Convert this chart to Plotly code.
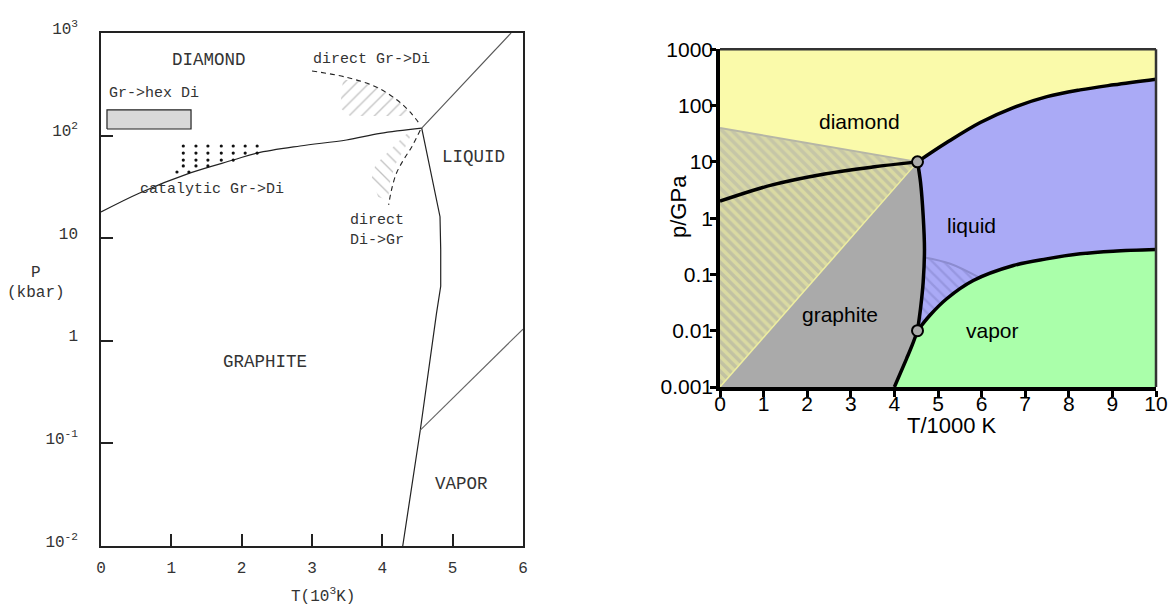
import numpy as np
import plotly.graph_objects as go

# ======================= left panel: T in 10^3 K, P in kbar =======================
L_gd_T = [0, 0.55, 1.27, 1.88, 2.22, 2.83, 3.49, 3.97, 4.56]
L_gd_P = [18.0, 27.6, 43.3, 57.8, 67.6, 79.2, 90.6, 105, 118]
L_dl_T = [4.56, 5.83]
L_dl_P = [118, 1000]
L_gl_T = [4.56, 4.73, 4.82, 4.83, 4.83, 4.77, 4.54, 4.29]
L_gl_P = [118, 31.8, 16.2, 7.7, 3.4, 1.85, 0.135, 0.01]
L_lv_T = [4.54, 6.0]
L_lv_P = [0.135, 1.30]
L_direct_gd_T = [3.0, 3.49, 3.92, 4.21, 4.39, 4.54]
L_direct_gd_P = [426, 370, 296, 222, 171, 127]
L_direct_dg_T = [4.54, 4.42, 4.30, 4.20, 4.13, 4.09]
L_direct_dg_P = [113.5, 78, 57.8, 42.9, 29.5, 21.1]
L_hatch_gd_T = [3.44, 3.71, 3.97, 4.22, 4.39, 4.32, 3.54, 3.40]
L_hatch_gd_P = [348, 348, 291, 222, 166, 155, 155, 186]
L_hatch_dg_T = [4.44, 4.32, 4.18, 4.11, 4.08, 3.94, 3.85, 3.90, 4.11, 4.32]
L_hatch_dg_P = [113.5, 75.7, 51.7, 35.3, 23.6, 25.2, 38.6, 51.7, 72.4, 101]
L_hexdi_T = [0.085, 1.28, 1.28, 0.085, 0.085]
L_hexdi_P = [116, 116, 178, 178, 116]
L_cat_T = ([1.17, 1.35, 1.52, 1.71, 1.88, 2.05, 2.22] * 2
           + [1.17, 1.35, 1.52, 1.71, 1.88] + [1.17, 1.35, 1.52] + [1.08, 1.25])
L_cat_P = ([79.2] * 7 + [67.6] * 7 + [57.8] * 5 + [50.6] * 3 + [44.2] * 2)
L_xticks = [0, 1, 2, 3, 4, 5, 6]
L_yticks = [0.01, 0.1, 1, 10, 100, 1000]
L_yticktext = ["10<sup>-2</sup>", "10<sup>-1</sup>", "1", "10", "10<sup>2</sup>", "10<sup>3</sup>"]

# ======================= right panel: T in 1000 K, p in GPa =======================
R_gd_T = [0, 1.2, 2.4, 3.5, 4.53]
R_gd_p = [2.0, 3.9, 6.1, 8.1, 10]
R_dl_T = [4.53, 5.2, 5.97, 6.73, 7.5, 8.26, 9.03, 10]
R_dl_p = [10, 22, 50, 92, 144, 190, 234, 295]
R_gl_T = [4.53, 4.6, 4.66, 4.69, 4.66, 4.6, 4.53]
R_gl_p = [10, 4.3, 1.1, 0.28, 0.073, 0.025, 0.01]
R_gv_T = [4.53, 4.41, 4.28, 4.0]
R_gv_p = [0.01, 0.0056, 0.0032, 0.001]
R_lv_T = [4.53, 4.82, 5.2, 5.81, 6.73, 7.49, 8.26, 9.02, 10]
R_lv_p = [0.01, 0.019, 0.037, 0.078, 0.144, 0.189, 0.232, 0.259, 0.277]
R_meta_top_p = 40          # upper corner of metastable-diamond wedge at T = 0
R_meta_liq_T = [4.69, 5.28, 5.96]
R_meta_liq_p = [0.2, 0.155, 0.087]
R_triple_T = [4.53, 4.53]
R_triple_p = [10, 0.01]
R_xticks = list(range(0, 11))
R_yticks = [0.001, 0.01, 0.1, 1, 10, 100, 1000]
R_yticktext = ["0.001", "0.01", "0.1", "1", "10", "100", "1000"]

W, H = 1171, 608
L_dom_x = [101 / W, 523 / W]
L_dom_y = [1 - 546 / H, 1 - 33 / H]
R_dom_x = [720 / W, 1156 / W]
R_dom_y = [1 - 387 / H, 1 - 49.3 / H]

MONO = "Liberation Mono"
SANS = "Liberation Sans"
INK = "#333333"

fig = go.Figure()


def poly(xs, ys, xa, ya, **kw):
    fig.add_trace(go.Scatter(x=list(xs), y=list(ys), xaxis=xa, yaxis=ya, mode="lines",
                             fill="toself", hoverinfo="skip", **kw))


def curve(xs, ys, xa, ya, color, width, dash="solid", shape="linear"):
    fig.add_trace(go.Scatter(x=list(xs), y=list(ys), xaxis=xa, yaxis=ya, mode="lines",
                             line=dict(color=color, width=width, dash=dash, shape=shape),
                             hoverinfo="skip"))


# ---------------- left panel ----------------
poly(L_hexdi_T, L_hexdi_P, "x", "y", fillcolor="#d9d9d9", line=dict(color="#222", width=1.2))
poly(L_hatch_gd_T, L_hatch_gd_P, "x", "y", fillcolor="rgba(0,0,0,0)",
     line=dict(width=0), fillpattern=dict(shape="/", fgcolor="#888888",
                                          bgcolor="rgba(255,255,255,0)", size=9, solidity=0.15))
poly(L_hatch_dg_T, L_hatch_dg_P, "x", "y", fillcolor="rgba(0,0,0,0)",
     line=dict(width=0), fillpattern=dict(shape="\\", fgcolor="#888888",
                                          bgcolor="rgba(255,255,255,0)", size=9, solidity=0.15))
curve(L_gd_T, L_gd_P, "x", "y", "#222222", 1.2, shape="spline")
curve(L_dl_T, L_dl_P, "x", "y", "#555555", 1.1)
curve(L_gl_T, L_gl_P, "x", "y", "#222222", 1.2)
curve(L_lv_T, L_lv_P, "x", "y", "#666666", 1.1)
curve(L_direct_gd_T, L_direct_gd_P, "x", "y", "#222222", 1.1, dash="5px,4px", shape="spline")
curve(L_direct_dg_T, L_direct_dg_P, "x", "y", "#222222", 1.1, dash="5px,4px", shape="spline")
fig.add_trace(go.Scatter(x=L_cat_T, y=L_cat_P, xaxis="x", yaxis="y", mode="markers",
                         marker=dict(size=3.2, color="#111111"), hoverinfo="skip"))

# ---------------- right panel ----------------
g_T = [0, 0] + R_gd_T[1:] + R_gl_T[1:] + R_gv_T[1:]
g_p = [0.001, R_gd_p[0]] + R_gd_p[1:] + R_gl_p[1:] + R_gv_p[1:]
poly(g_T, g_p, "x2", "y2", fillcolor="#aaaaaa", line=dict(width=0))

l_T = R_gl_T + R_lv_T[1:] + R_dl_T[::-1]
l_p = R_gl_p + R_lv_p[1:] + R_dl_p[::-1]
poly(l_T, l_p, "x2", "y2", fillcolor="#aaaaf6", line=dict(width=0))

ml_lv = [(t, p) for t, p in zip(R_lv_T, R_lv_p) if t < R_meta_liq_T[-1]][::-1]
ml_gl = [(t, p) for t, p in zip(R_gl_T, R_gl_p) if p < R_meta_liq_p[0]][::-1][1:]
ml_T = R_meta_liq_T + [a for a, _ in ml_lv] + [a for a, _ in ml_gl]
ml_p = R_meta_liq_p + [b for _, b in ml_lv] + [b for _, b in ml_gl]
poly(ml_T, ml_p, "x2", "y2", fillcolor="#aaaaf6", line=dict(width=0),
     fillpattern=dict(shape="\\", fgcolor="#8484cc", bgcolor="#aaaaf6", size=8, solidity=0.3))

v_T = R_gv_T[::-1] + R_lv_T[1:] + [10]
v_p = R_gv_p[::-1] + R_lv_p[1:] + [0.001]
poly(v_T, v_p, "x2", "y2", fillcolor="#aaffaa", line=dict(width=0))

# metastable diamond wedge, split by the graphite/diamond boundary
up_T = [0, R_gd_T[-1]] + R_gd_T[::-1][1:]
up_p = [R_meta_top_p, R_gd_p[-1]] + R_gd_p[::-1][1:]
poly(up_T, up_p, "x2", "y2", fillcolor="#d6d6a6", line=dict(width=0),
     fillpattern=dict(shape="\\", fgcolor="#b4b4a8", bgcolor="#d8d8a6", size=7, solidity=0.5))
lo_T = R_gd_T + [0]
lo_p = R_gd_p + [0.001]
poly(lo_T, lo_p, "x2", "y2", fillcolor="#c4c4a2", line=dict(width=0),
     fillpattern=dict(shape="\\", fgcolor="#f2f2a2", bgcolor="#c2c2a2", size=7, solidity=0.5))
curve([0, R_gd_T[-1]], [R_meta_top_p, R_gd_p[-1]], "x2", "y2", "#b6b6a6", 2)
curve([0, R_gd_T[-1]], [0.001, R_gd_p[-1]], "x2", "y2", "#eeeea0", 1.5)
curve(R_meta_liq_T, R_meta_liq_p, "x2", "y2", "#8c8cd0", 2, shape="spline")

for xs, ys in [(R_gd_T, R_gd_p), (R_dl_T, R_dl_p), (R_gl_T, R_gl_p),
               (R_gv_T, R_gv_p), (R_lv_T, R_lv_p)]:
    curve(xs, ys, "x2", "y2", "#000000", 3.5, shape="spline")
fig.add_trace(go.Scatter(x=R_triple_T, y=R_triple_p, xaxis="x2", yaxis="y2", mode="markers",
                         marker=dict(size=11, color="#aaaaaa", line=dict(color="#000", width=2)),
                         hoverinfo="skip", cliponaxis=False))

# ---------------- axes ----------------
mono_tick = dict(family=MONO, size=16, color=INK)
sans_tick = dict(family=SANS, size=21, color="#000")
layout = dict(
    width=W, height=H, autosize=False,
    margin=dict(l=0, r=0, t=0, b=0, pad=0, autoexpand=False),
    paper_bgcolor="white", plot_bgcolor="rgba(0,0,0,0)", showlegend=False,
    xaxis=dict(domain=L_dom_x, range=[0, 6], anchor="y", tickvals=L_xticks,
               ticks="inside", ticklen=12, tickwidth=1.5, tickcolor="#222",
               showline=True, linecolor="#222", linewidth=1.5, mirror=True,
               showgrid=False, zeroline=False, tickfont=mono_tick, ticklabelstandoff=6,
               automargin=False),
    yaxis=dict(domain=L_dom_y, type="log", range=[-2, 3], anchor="x", tickvals=L_yticks,
               ticktext=L_yticktext, ticks="inside", ticklen=12, tickwidth=1.5,
               tickcolor="#222", showline=True, linecolor="#222", linewidth=1.5, mirror=True,
               showgrid=False, zeroline=False, tickfont=mono_tick, ticklabelstandoff=18,
               ticklabelshift=-5, automargin=False),
    xaxis2=dict(domain=R_dom_x, range=[0, 10], anchor="y2", tickvals=R_xticks,
                ticks="outside", ticklen=6, tickwidth=2.5, tickcolor="#000",
                showline=True, linecolor="#000", linewidth=3.5,
                showgrid=False, zeroline=False, tickfont=sans_tick, automargin=False,
                ticklabelstandoff=-11),
    yaxis2=dict(domain=R_dom_y, type="log", range=[-3, 3], anchor="x2", tickvals=R_yticks,
                ticktext=R_yticktext, ticks="outside", ticklen=6, tickwidth=2.5,
                tickcolor="#000", showline=True, linecolor="#000", linewidth=3.5,
                showgrid=False, zeroline=False, tickfont=sans_tick, automargin=False,
                ticklabelstandoff=-7),
)
fig.update_layout(**layout)

# right-panel background (diamond field) and frame
fig.add_shape(type="rect", xref="x2 domain", yref="y2 domain", x0=0, x1=1, y0=0, y1=1,
              fillcolor="#fafaaa", line=dict(width=0), layer="below")
fig.add_shape(type="line", xref="x2 domain", yref="y2 domain", x0=0, x1=1, y0=1, y1=1,
              line=dict(color="#333", width=2.5))
fig.add_shape(type="line", xref="x2 domain", yref="y2 domain", x0=1, x1=1, y0=0, y1=1,
              line=dict(color="#333", width=2.5))


def note(text, x, y, size, family=MONO, color=INK, xref="x", yref="y", xanchor="center",
         yanchor="middle", **kw):
    fig.add_annotation(text=text, x=x, y=y, xref=xref, yref=yref, showarrow=False,
                       xanchor=xanchor, yanchor=yanchor,
                       font=dict(family=family, size=size, color=color), **kw)


lg = np.log10
note("DIAMOND", 1.536, lg(546), 17.5)
note("Gr-&gt;hex Di", 0.085, 2.415, 15, xanchor="left")
note("direct Gr-&gt;Di", 3.853, 2.737, 15)
note("LIQUID", 5.29, 1.791, 17.5)
note("catalytic Gr-&gt;Di", 1.578, 1.47, 15)
note("direct", 3.924, 1.168, 15)
note("Di-&gt;Gr", 3.924, 0.982, 15)
note("GRAPHITE", 2.332, -0.207, 17.5)
note("VAPOR", 5.119, -1.396, 17.5)
note("P", 36 / W, 1 - 273 / H, 16, xref="paper", yref="paper")
note("(kbar)", 36 / W, 1 - 293 / H, 16, xref="paper", yref="paper")
note("T(10<sup>3</sup>K)", 323 / W, 0, 16, xref="paper", yref="paper", yanchor="bottom")

note("diamond", 3.21, 1.716, 21, family=SANS, color="#000", xref="x2", yref="y2")
note("liquid", 5.76, -0.122, 21, family=SANS, color="#000", xref="x2", yref="y2")
note("graphite", 2.75, -1.712, 21, family=SANS, color="#000", xref="x2", yref="y2")
note("vapor", 6.26, -1.995, 21, family=SANS, color="#000", xref="x2", yref="y2")
note("p/GPa", 678 / W, 1 - 207 / H, 22, family=SANS, color="#000",
     xref="paper", yref="paper", textangle=-90)
note("T/1000 K", 952 / W, 1 - 425 / H, 22, family=SANS, color="#000",
     xref="paper", yref="paper")

fig.write_html("out.html", config={"responsive": False})
